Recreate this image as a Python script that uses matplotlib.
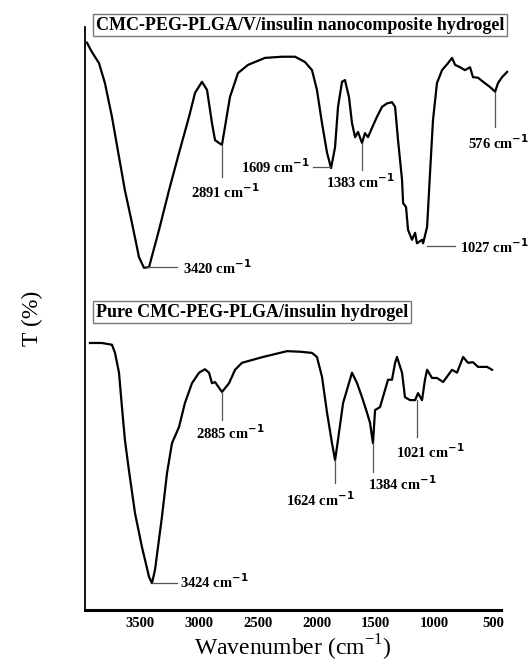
#!/usr/bin/env python3
import matplotlib.pyplot as plt

# FTIR spectra (wavenumber in cm-1, T in arbitrary %)
wn_nano = [3950, 3908, 3848, 3798, 3738, 3678, 3628, 3568, 3508, 3466, 3423, 3338,
           3253, 3168, 3083, 3032, 2973, 2930, 2888, 2862, 2828, 2803, 2778, 2735,
           2667, 2582, 2438, 2293, 2182, 2098, 2038, 1996, 1953, 1910, 1876, 1842,
           1817, 1783, 1758, 1724, 1698, 1672, 1647, 1613, 1588, 1562, 1528, 1486,
           1443, 1400, 1358, 1332, 1307, 1273, 1264, 1239, 1222, 1188, 1162, 1146,
           1103, 1094, 1060, 1035, 1010, 976, 933, 882, 848, 822, 780, 738, 695,
           670, 627, 584, 525, 482, 457, 423, 380]
t_nano = [97.3, 95.7, 93.8, 90.4, 84.6, 77.7, 72.0, 66.4, 60.5, 58.7, 58.8, 65.2,
          72.0, 78.4, 84.6, 88.7, 90.6, 89.2, 83.5, 80.6, 80.1, 79.8, 82.8, 88.0,
          92.1, 93.5, 94.7, 94.9, 94.9, 94.0, 92.6, 89.2, 83.5, 78.4, 75.8, 79.4,
          86.3, 90.6, 90.9, 88.0, 83.5, 81.1, 82.0, 80.1, 81.8, 81.1, 82.7, 84.6,
          86.3, 86.9, 87.1, 86.3, 80.6, 73.8, 69.8, 69.1, 65.2, 63.5, 64.7, 62.9,
          63.5, 62.9, 65.7, 75.0, 84.0, 90.4, 92.6, 93.8, 94.7, 93.5, 93.1, 92.6,
          93.1, 91.4, 91.3, 90.6, 89.7, 88.9, 90.4, 91.4, 92.3]

wn_pure = [3925, 3823, 3738, 3712, 3678, 3653, 3628, 3594, 3542, 3483, 3423, 3398,
           3372, 3313, 3270, 3228, 3168, 3118, 3058, 2998, 2948, 2913, 2888, 2862,
           2803, 2743, 2692, 2633, 2455, 2250, 2140, 2038, 1996, 1953, 1910, 1868,
           1842, 1817, 1774, 1698, 1655, 1613, 1570, 1545, 1520, 1502, 1460, 1418,
           1392, 1358, 1332, 1316, 1273, 1248, 1205, 1162, 1137, 1103, 1078, 1060,
           1018, 976, 924, 848, 806, 754, 712, 670, 627, 550, 508]
t_pure = [45.8, 45.8, 45.5, 44.1, 40.7, 34.8, 29.2, 24.0, 16.6, 10.8, 5.7, 4.6,
          6.9, 16.0, 23.5, 28.6, 31.4, 35.5, 38.9, 40.7, 41.3, 40.7, 38.9, 39.1,
          37.4, 38.9, 41.2, 42.4, 43.4, 44.4, 44.3, 44.1, 43.4, 40.0, 33.8, 28.6,
          25.7, 29.2, 35.5, 40.7, 38.9, 36.5, 33.8, 32.1, 28.6, 34.3, 34.8, 37.7,
          39.5, 39.5, 42.4, 43.4, 40.7, 36.5, 36.0, 36.0, 37.2, 36.0, 39.5, 41.2,
          39.8, 39.8, 39.1, 41.2, 40.7, 43.4, 42.4, 42.5, 41.7, 41.7, 41.2]

tick_vals = [3500, 3000, 2500, 2000, 1500, 1000, 500]

SERIF = "Liberation Serif"


def cm(label):
    return label + r" cm$^{\mathbf{-1}}$"


def peak_label(ax, text, tx, ty, line, ha="center"):
    (x0, y0), (x1, y1) = line
    ax.plot([x0, x1], [y0, y1], color="#555555", lw=0.9, clip_on=False)
    ax.text(tx, ty, cm(text), ha=ha, va="center", fontsize=10.5,
            fontweight="bold", family=SERIF, clip_on=False)


def main():
    fig = plt.figure(figsize=(5.32, 6.64), dpi=100)
    ax = fig.add_axes([85 / 532, 54 / 664, 416 / 532, 583 / 664])

    ax.plot(wn_nano, t_nano, color="black", lw=1.6, clip_on=False,
            solid_joinstyle="round")
    ax.plot(wn_pure, t_pure, color="black", lw=1.6, clip_on=False,
            solid_joinstyle="round")

    ax.set_xlim(3967, 432)
    ax.set_ylim(0, 100)
    ax.set_xticks(tick_vals)
    ax.set_xticklabels([str(v) for v in tick_vals], fontweight="bold",
                       family=SERIF, fontsize=10.5)
    ax.set_yticks([])
    ax.tick_params(axis="x", length=0, pad=5)
    for s in ("top", "right"):
        ax.spines[s].set_visible(False)
    ax.spines["left"].set_linewidth(1.3)
    ax.spines["bottom"].set_linewidth(2.2)

    ax.set_xlabel(r"Wavenumber (cm$^{\mathregular{-1}}$)", family=SERIF,
                  fontsize=17, labelpad=2)
    ax.set_ylabel("T (%)", family=SERIF, fontsize=17, labelpad=30)

    # top spectrum
    peak_label(ax, "3420", 3135, 58.8, ((3440, 58.8), (3185, 58.8)), ha="left")
    peak_label(ax, "2891", 2778, 71.7, ((2803, 79.8), (2803, 74.3)))
    peak_label(ax, "1609", 2055, 76.0, ((2030, 76.0), (1885, 76.0)), ha="right")
    peak_label(ax, "1383", 1630, 73.4, ((1613, 80.1), (1613, 75.5)))
    peak_label(ax, "1027", 780, 62.4, ((1060, 62.4), (822, 62.4)), ha="left")
    peak_label(ax, "576", 457, 80.1, ((482, 88.9), (482, 82.8)))
    # bottom spectrum
    peak_label(ax, "2885", 2735, 30.4, ((2803, 37.4), (2803, 32.6)))
    peak_label(ax, "1021", 1035, 27.1, ((1146, 36.0), (1146, 29.7)))
    peak_label(ax, "1624", 1970, 18.9, ((1842, 25.7), (1842, 21.8)))
    peak_label(ax, "1384", 1273, 21.6, ((1520, 28.6), (1520, 23.7)))
    peak_label(ax, "3424", 3160, 4.8, ((3398, 4.6), (3185, 4.6)), ha="left")

    box = dict(boxstyle="square,pad=0.15", facecolor="white",
               edgecolor="#777777", lw=1.0)
    fig.text(96 / 532, 1 - 25 / 664, "CMC-PEG-PLGA/V/insulin nanocomposite hydrogel",
             family=SERIF, fontweight="bold", fontsize=13, va="center", bbox=box)
    fig.text(96 / 532, 1 - 312 / 664, "Pure CMC-PEG-PLGA/insulin hydrogel",
             family=SERIF, fontweight="bold", fontsize=13, va="center", bbox=box)

    fig.savefig("out.png", dpi=100)


if __name__ == "__main__":
    main()
